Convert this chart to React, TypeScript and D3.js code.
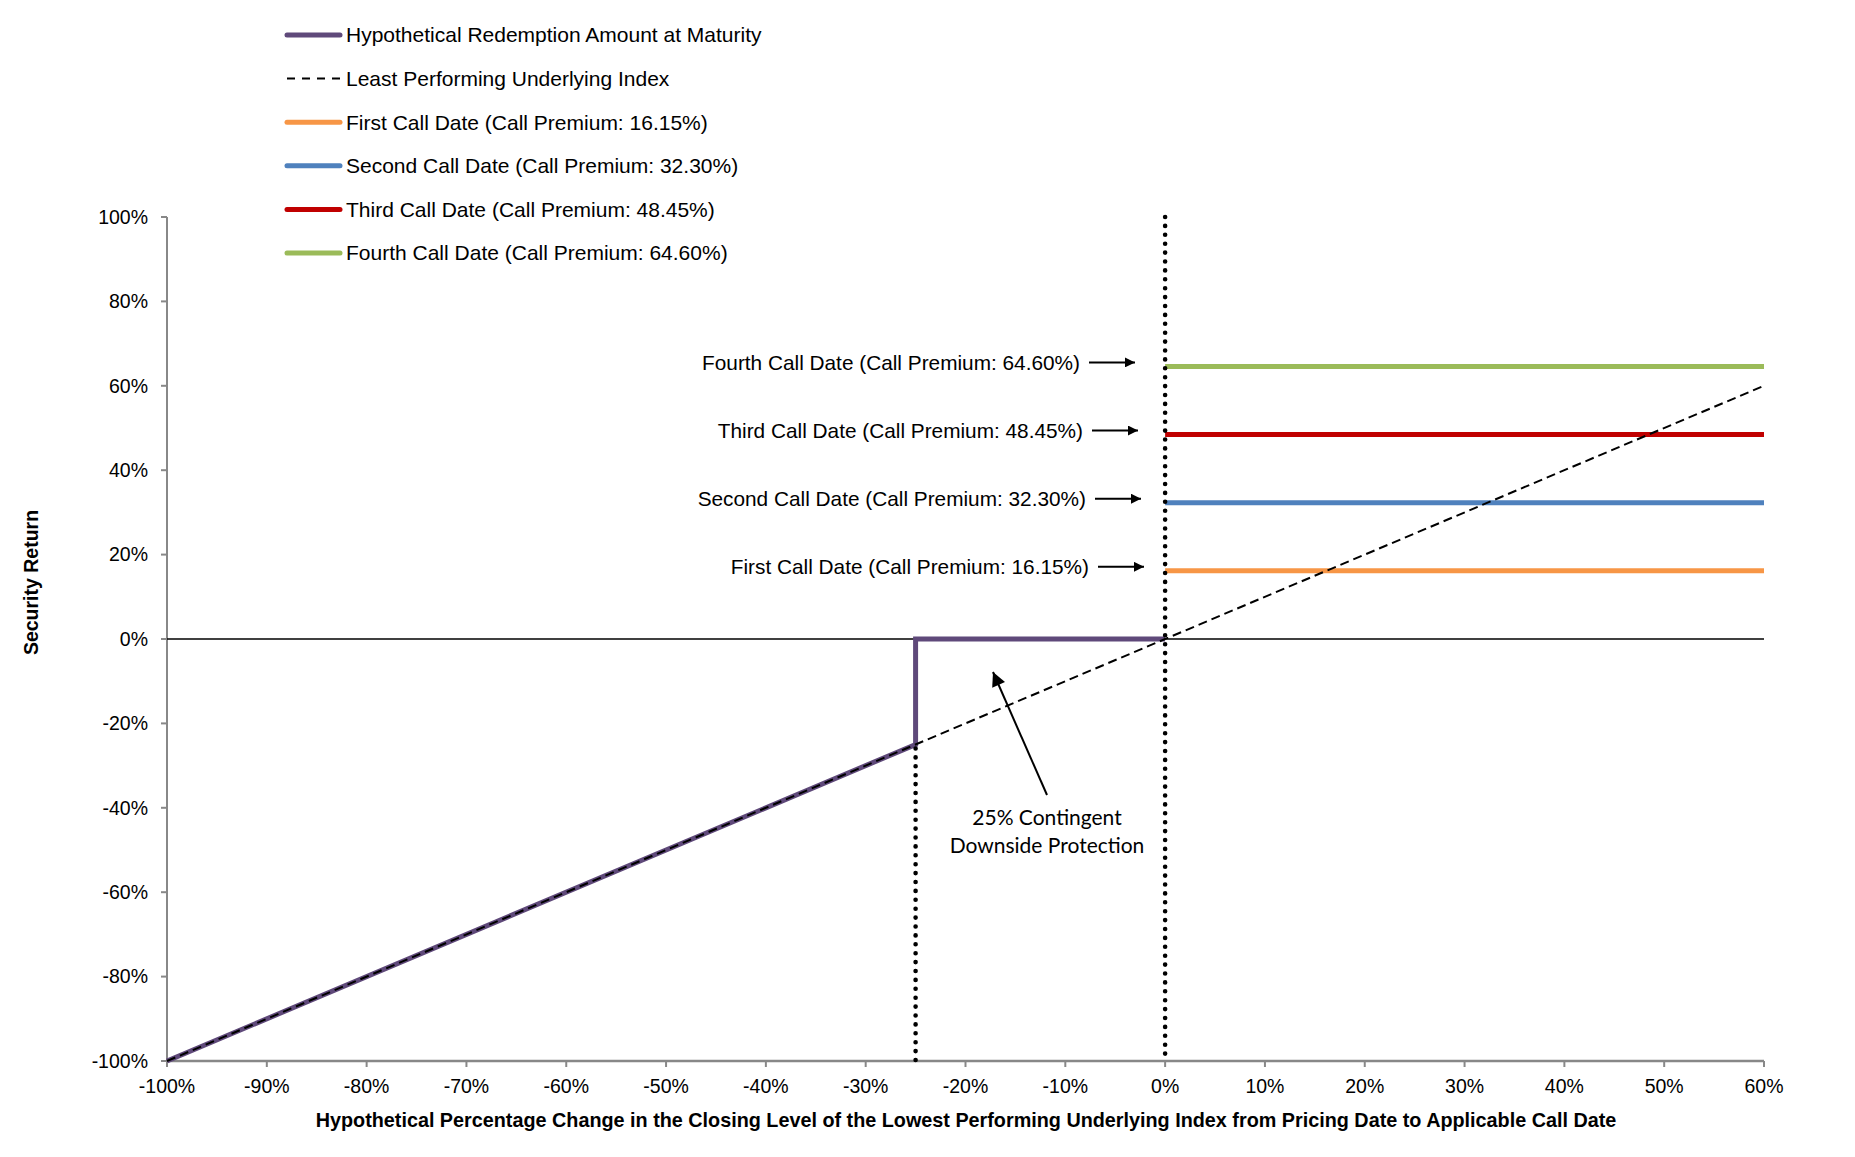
import React from "react";
import * as d3 from "d3";

// ---- data ----
const xTicks = [-1, -0.9, -0.8, -0.7, -0.6, -0.5, -0.4, -0.3, -0.2, -0.1, 0, 0.1, 0.2, 0.3, 0.4, 0.5, 0.6];
const yTicks = [-1, -0.8, -0.6, -0.4, -0.2, 0, 0.2, 0.4, 0.6, 0.8, 1];
const redemptionX = [-1, -0.25, -0.25, 0];
const redemptionY = [-1, -0.25, 0, 0];
const indexX = [-1, 0.6];
const indexY = [-1, 0.6];
const callNames = ["First", "Second", "Third", "Fourth"];
const callPremiums = [0.1615, 0.323, 0.4845, 0.646];
const callColors = ["#F79646", "#4F81BD", "#C00000", "#9BBB59"];
const callRange = [0, 0.6];
const barrier = -0.25;
const legendLabels = [
  "Hypothetical Redemption Amount at Maturity",
  "Least Performing Underlying Index",
  "First Call Date (Call Premium: 16.15%)",
  "Second Call Date (Call Premium: 32.30%)",
  "Third Call Date (Call Premium: 48.45%)",
  "Fourth Call Date (Call Premium: 64.60%)",
];
const purple = "#5F497A";
const fmt = (v: number) => `${Math.round(v * 100)}%`;

const W = 1855;
const H = 1157;

export default function App() {
  const x = d3.scaleLinear().domain([-1, 0.6]).range([167, 1764]);
  const y = d3.scaleLinear().domain([-1, 1]).range([1061, 217]);
  const line = d3
    .line<[number, number]>()
    .x((d) => x(d[0]))
    .y((d) => y(d[1]));
  const redemption = redemptionX.map((v, i) => [v, redemptionY[i]] as [number, number]);
  const index = indexX.map((v, i) => [v, indexY[i]] as [number, number]);
  const font = "Arial, 'Liberation Sans', sans-serif";

  const legendRowY = (i: number) => 35 + i * 43.6;
  const legendItems = legendLabels.map((label, i) => ({
    label,
    color: i === 0 ? purple : i === 1 ? "#000" : callColors[i - 2],
    dashed: i === 1,
  }));

  return (
    <div style={{ position: "absolute", left: 0, top: 0 }}>
      <svg width={W} height={H} style={{ display: "block", background: "#fff" }} fontFamily={font}>
        <defs>
          <marker id="ah" viewBox="0 0 10 10" refX="10" refY="5" markerWidth="11" markerHeight="10" markerUnits="userSpaceOnUse" orient="auto">
            <path d="M0,0 L10,5 L0,10 z" fill="#000" />
          </marker>
          <marker id="ah2" viewBox="0 0 10 10" refX="10" refY="5" markerWidth="15" markerHeight="14" markerUnits="userSpaceOnUse" orient="auto">
            <path d="M0,0 L10,5 L0,10 z" fill="#000" />
          </marker>
        </defs>

        {/* legend */}
        {legendItems.map((it, i) => (
          <g key={i}>
            <line
              x1={287}
              x2={340}
              y1={legendRowY(i)}
              y2={legendRowY(i)}
              stroke={it.color}
              strokeWidth={it.dashed ? 2 : 5}
              strokeLinecap={it.dashed ? "butt" : "round"}
              strokeDasharray={it.dashed ? "8,7" : undefined}
            />
            <text x={346} y={legendRowY(i)} dy="0.35em" fontSize={21} fill="#000">
              {it.label}
            </text>
          </g>
        ))}

        {/* y axis */}
        <line x1={x(-1)} x2={x(-1)} y1={y(1)} y2={y(-1)} stroke="#888" strokeWidth={2} />
        {yTicks.map((t) => (
          <g key={t}>
            <line x1={x(-1) - 6} x2={x(-1)} y1={y(t)} y2={y(t)} stroke="#888" strokeWidth={2} />
            <text x={148} y={y(t)} dy="0.35em" textAnchor="end" fontSize={19.5} fill="#000">
              {fmt(t)}
            </text>
          </g>
        ))}

        {/* x axis */}
        <line x1={x(-1)} x2={x(0.6)} y1={y(-1)} y2={y(-1)} stroke="#888" strokeWidth={2.5} />
        {xTicks.map((t) => (
          <g key={t}>
            <line x1={x(t)} x2={x(t)} y1={y(-1)} y2={y(-1) + 6} stroke="#888" strokeWidth={2} />
            <text x={x(t)} y={1093} textAnchor="middle" fontSize={19.5} fill="#000">
              {fmt(t)}
            </text>
          </g>
        ))}

        {/* zero line */}
        <line x1={x(-1)} x2={x(0.6)} y1={y(0)} y2={y(0)} stroke="#000" strokeWidth={1.4} />

        {/* call premium lines */}
        {callPremiums.map((p, i) => (
          <line
            key={i}
            x1={x(callRange[0])}
            x2={x(callRange[1])}
            y1={y(p)}
            y2={y(p)}
            stroke={callColors[i]}
            strokeWidth={5}
          />
        ))}

        {/* redemption */}
        <path d={line(redemption) || ""} fill="none" stroke={purple} strokeWidth={5} strokeLinejoin="miter" />

        {/* index */}
        <path d={line(index) || ""} fill="none" stroke="#000" strokeWidth={2} strokeDasharray="9,5" />

        {/* dotted verticals */}
        <line x1={x(barrier)} x2={x(barrier)} y1={y(barrier) + 4} y2={y(-1)} stroke="#000" strokeWidth={4.6} strokeLinecap="round" strokeDasharray="0,8.9" />
        <line x1={x(0)} x2={x(0)} y1={y(1)} y2={y(-1)} stroke="#000" strokeWidth={4.6} strokeLinecap="round" strokeDasharray="0,8.9" />

        {/* call annotations */}
        {callPremiums.map((p, i) => {
          const textEnd = 1089 - i * 3;
          const ay = y(p) - 4;
          return (
            <g key={i}>
              <text x={textEnd} y={ay} dy="0.35em" textAnchor="end" fontSize={20.8} fill="#000">
                {`${callNames[i]} Call Date (Call Premium: ${(p * 100).toFixed(2)}%)`}
              </text>
              <line x1={textEnd + 9} x2={textEnd + 55} y1={ay} y2={ay} stroke="#000" strokeWidth={2} markerEnd="url(#ah)" />
            </g>
          );
        })}

        {/* contingent protection annotation */}
        <line x1={1047} y1={795} x2={993} y2={672} stroke="#000" strokeWidth={2} markerEnd="url(#ah2)" />
        <text x={1047} y={825} textAnchor="middle" fontSize={21} fontFamily="Lato, 'Open Sans', sans-serif" fill="#000">
          25% Contingent
        </text>
        <text x={1047} y={853} textAnchor="middle" fontSize={21} fontFamily="Lato, 'Open Sans', sans-serif" fill="#000">
          Downside Protection
        </text>

        {/* axis titles */}
        <text x={966} y={1120} dy="0.35em" textAnchor="middle" fontSize={19.8} fontWeight="bold" fill="#000">
          Hypothetical Percentage Change in the Closing Level of the Lowest Performing Underlying Index from Pricing Date to Applicable Call Date
        </text>
        <text transform="translate(31,582.5) rotate(-90)" dy="0.35em" textAnchor="middle" fontSize={19.5} fontWeight="bold" fill="#000">
          Security Return
        </text>
      </svg>
    </div>
  );
}
